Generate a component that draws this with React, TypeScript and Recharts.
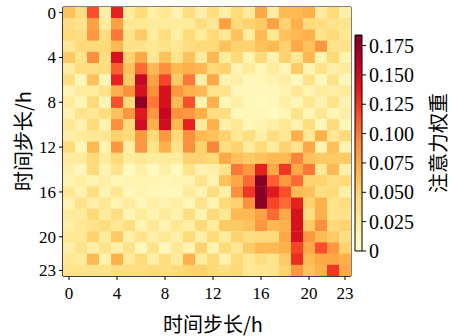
import React from "react";
import {
  Bar,
  BarChart,
  Customized,
  ReferenceArea,
  Scatter,
  ScatterChart,
  XAxis,
  YAxis,
} from "recharts";

// attention weights, one array per query time step (row), 24 key steps each
const step0 = [0.06, 0.04, 0.115, 0.02, 0.135, 0.025, 0.045, 0.02, 0.03, 0.015, 0.04, 0.02, 0.04, 0.02, 0.045, 0.025, 0.075, 0.025, 0.065, 0.065, 0.07, 0.025, 0.045, 0.02];
const step1 = [0.04, 0.035, 0.08, 0.025, 0.08, 0.03, 0.03, 0.025, 0.025, 0.025, 0.025, 0.04, 0.03, 0.08, 0.045, 0.05, 0.055, 0.08, 0.05, 0.07, 0.045, 0.04, 0.035, 0.035];
const step2 = [0.045, 0.04, 0.085, 0.04, 0.1, 0.035, 0.055, 0.025, 0.04, 0.02, 0.045, 0.025, 0.045, 0.03, 0.06, 0.025, 0.065, 0.03, 0.06, 0.065, 0.07, 0.035, 0.045, 0.03];
const step3 = [0.03, 0.045, 0.045, 0.045, 0.065, 0.035, 0.035, 0.03, 0.035, 0.03, 0.04, 0.045, 0.045, 0.06, 0.05, 0.05, 0.06, 0.065, 0.05, 0.075, 0.06, 0.085, 0.035, 0.035];
const step4 = [0.055, 0.035, 0.09, 0.04, 0.145, 0.05, 0.075, 0.03, 0.06, 0.035, 0.06, 0.025, 0.065, 0.025, 0.045, 0.015, 0.045, 0.015, 0.05, 0.03, 0.065, 0.015, 0.045, 0.015];
const step5 = [0.025, 0.04, 0.04, 0.04, 0.11, 0.06, 0.105, 0.065, 0.09, 0.065, 0.07, 0.065, 0.045, 0.05, 0.015, 0.025, 0.012, 0.025, 0.012, 0.055, 0.015, 0.035, 0.02, 0.025];
const step6 = [0.04, 0.012, 0.06, 0.012, 0.135, 0.055, 0.155, 0.08, 0.12, 0.055, 0.1, 0.02, 0.075, 0.015, 0.02, 0.01, 0.012, 0.015, 0.02, 0.008, 0.035, 0.01, 0.035, 0.01];
const step7 = [0.015, 0.025, 0.025, 0.035, 0.07, 0.09, 0.145, 0.09, 0.145, 0.085, 0.07, 0.065, 0.035, 0.035, 0.01, 0.01, 0.01, 0.01, 0.015, 0.03, 0.015, 0.025, 0.02, 0.025];
const step8 = [0.025, 0.012, 0.045, 0.012, 0.115, 0.045, 0.178, 0.1, 0.145, 0.065, 0.115, 0.015, 0.07, 0.012, 0.02, 0.01, 0.008, 0.01, 0.02, 0.012, 0.03, 0.015, 0.035, 0.015];
const step9 = [0.015, 0.035, 0.03, 0.04, 0.06, 0.085, 0.14, 0.085, 0.155, 0.09, 0.085, 0.07, 0.04, 0.04, 0.01, 0.012, 0.01, 0.008, 0.012, 0.035, 0.012, 0.03, 0.012, 0.02];
const step10 = [0.03, 0.015, 0.045, 0.015, 0.09, 0.045, 0.15, 0.07, 0.15, 0.065, 0.135, 0.025, 0.07, 0.02, 0.03, 0.012, 0.015, 0.02, 0.03, 0.015, 0.04, 0.012, 0.045, 0.012];
const step11 = [0.02, 0.025, 0.03, 0.03, 0.05, 0.045, 0.085, 0.045, 0.085, 0.045, 0.09, 0.065, 0.06, 0.05, 0.03, 0.04, 0.02, 0.04, 0.03, 0.07, 0.03, 0.07, 0.03, 0.045];
const step12 = [0.045, 0.012, 0.065, 0.015, 0.085, 0.02, 0.085, 0.035, 0.07, 0.035, 0.09, 0.05, 0.095, 0.04, 0.05, 0.025, 0.045, 0.025, 0.05, 0.035, 0.075, 0.015, 0.06, 0.015];
const step13 = [0.025, 0.025, 0.045, 0.025, 0.045, 0.025, 0.03, 0.025, 0.025, 0.025, 0.05, 0.05, 0.045, 0.075, 0.06, 0.055, 0.06, 0.065, 0.065, 0.095, 0.06, 0.055, 0.055, 0.055];
const step14 = [0.02, 0.01, 0.045, 0.015, 0.035, 0.008, 0.02, 0.008, 0.02, 0.008, 0.035, 0.015, 0.02, 0.035, 0.1, 0.085, 0.135, 0.075, 0.125, 0.075, 0.1, 0.03, 0.065, 0.02];
const step15 = [0.015, 0.02, 0.015, 0.02, 0.012, 0.015, 0.015, 0.015, 0.012, 0.015, 0.015, 0.035, 0.015, 0.06, 0.075, 0.105, 0.18, 0.11, 0.085, 0.105, 0.05, 0.05, 0.04, 0.045];
const step16 = [0.03, 0.015, 0.04, 0.015, 0.03, 0.01, 0.015, 0.012, 0.01, 0.01, 0.025, 0.015, 0.04, 0.02, 0.09, 0.125, 0.18, 0.14, 0.115, 0.065, 0.06, 0.04, 0.045, 0.02];
const step17 = [0.015, 0.035, 0.02, 0.03, 0.015, 0.025, 0.012, 0.02, 0.015, 0.02, 0.012, 0.035, 0.015, 0.045, 0.05, 0.09, 0.18, 0.12, 0.105, 0.135, 0.05, 0.07, 0.035, 0.04];
const step18 = [0.025, 0.025, 0.045, 0.025, 0.04, 0.012, 0.025, 0.015, 0.025, 0.015, 0.04, 0.015, 0.045, 0.03, 0.065, 0.065, 0.08, 0.105, 0.075, 0.145, 0.04, 0.07, 0.035, 0.035];
const step19 = [0.02, 0.03, 0.035, 0.04, 0.03, 0.04, 0.015, 0.03, 0.015, 0.03, 0.02, 0.045, 0.025, 0.055, 0.055, 0.06, 0.085, 0.065, 0.07, 0.145, 0.055, 0.09, 0.045, 0.05];
const step20 = [0.03, 0.03, 0.05, 0.025, 0.055, 0.02, 0.035, 0.02, 0.03, 0.02, 0.045, 0.02, 0.045, 0.025, 0.05, 0.04, 0.045, 0.045, 0.075, 0.145, 0.085, 0.065, 0.055, 0.04];
const step21 = [0.02, 0.035, 0.02, 0.035, 0.02, 0.035, 0.01, 0.035, 0.01, 0.03, 0.015, 0.05, 0.015, 0.045, 0.03, 0.055, 0.065, 0.065, 0.07, 0.12, 0.075, 0.115, 0.085, 0.05];
const step22 = [0.03, 0.025, 0.065, 0.015, 0.07, 0.025, 0.045, 0.02, 0.04, 0.025, 0.07, 0.025, 0.045, 0.015, 0.045, 0.03, 0.04, 0.035, 0.055, 0.13, 0.065, 0.075, 0.075, 0.07];
const step23 = [0.035, 0.035, 0.035, 0.035, 0.04, 0.04, 0.04, 0.045, 0.04, 0.045, 0.05, 0.05, 0.045, 0.04, 0.045, 0.03, 0.03, 0.035, 0.05, 0.085, 0.06, 0.07, 0.125, 0.075];

const weights = [
  step0, step1, step2, step3, step4, step5, step6, step7,
  step8, step9, step10, step11, step12, step13, step14, step15,
  step16, step17, step18, step19, step20, step21, step22, step23,
];

const hourTicks = [0, 4, 8, 12, 16, 20, 23];
const colorbarTicks = [0, 0.025, 0.05, 0.075, 0.1, 0.125, 0.15, 0.175];
const VMAX = 0.184;

const YLORRD = ["#ffffcc", "#ffeda0", "#fed976", "#feb24c", "#fd8d3c", "#fc4e2a", "#e31a1c", "#bd0026", "#800026"];

const W = 452;
const H = 336;
const margin = { top: 7, right: 101, bottom: 30, left: 8 };
const Y_AXIS_W = 55;
const X_AXIS_H = 30;
const plotW = W - margin.left - margin.right - Y_AXIS_W;
const plotH = H - margin.top - margin.bottom - X_AXIS_H;
const cellW = plotW / 24;
const cellH = plotH / 24;

const serif = "'Liberation Serif', 'Times New Roman', 'DejaVu Serif', serif";
const cjk = "'Noto Sans CJK SC', sans-serif";

function hexToRgb(h: string) {
  return [1, 3, 5].map((i) => parseInt(h.slice(i, i + 2), 16));
}

function ylOrRd(v: number) {
  const t = Math.max(0, Math.min(1, v / VMAX)) * (YLORRD.length - 1);
  const i = Math.min(Math.floor(t), YLORRD.length - 2);
  const f = t - i;
  const a = hexToRgb(YLORRD[i]);
  const b = hexToRgb(YLORRD[i + 1]);
  const c = a.map((x, k) => Math.round(x + (b[k] - x) * f));
  return `rgb(${c[0]},${c[1]},${c[2]})`;
}

const cells = weights.flatMap((row, y) => row.map((w, x) => ({ x, y, w })));

const Cell = (props: any) => {
  const { cx, cy, payload } = props;
  return (
    <rect
      x={cx - cellW / 2}
      y={cy - cellH / 2}
      width={cellW + 0.4}
      height={cellH + 0.4}
      fill={ylOrRd(payload.w)}
    />
  );
};

// serif tick text; anchor depends on which axis it sits on
const makeTick = (anchor: "middle" | "end" | "start", size: number, dy: string, fmt?: (v: number) => string) =>
  (props: any) => {
    const { x, y, payload } = props;
    const v = payload.value;
    return (
      <text x={x} y={y} dy={dy} textAnchor={anchor} fill="#000" fontSize={size} style={{ fontFamily: serif }}>
        {fmt ? fmt(v) : v}
      </text>
    );
  };

const xTick = makeTick("middle", 17, "0.9em");
const yTick = makeTick("end", 17, "0.35em");
const cbTick = makeTick("start", 20, "0.35em", (v) => (v === 0 ? "0" : v.toFixed(3)));

export default function App() {
  return (
    <div style={{ position: "absolute", left: 0, top: 0, width: W, height: H, background: "#fff" }}>
      <div style={{ position: "absolute", left: 0, top: 0 }}>
        <ScatterChart width={W} height={H} margin={margin}>
          <XAxis
            type="number"
            dataKey="x"
            domain={[-0.5, 23.5]}
            ticks={hourTicks}
            interval={0}
            allowDataOverflow
            height={X_AXIS_H}
            tickSize={4}
            tickMargin={4}
            tick={xTick}
            stroke="#000"
          />
          <YAxis
            type="number"
            dataKey="y"
            domain={[-0.5, 23.5]}
            ticks={hourTicks}
            interval={0}
            reversed
            allowDataOverflow
            width={Y_AXIS_W}
            tickSize={4}
            tickMargin={3}
            tick={yTick}
            stroke="#000"
          />
          <Scatter data={cells} shape={Cell} isAnimationActive={false} />
          <ReferenceArea x1={-0.5} x2={23.5} y1={-0.5} y2={23.5} fill="none" stroke="#000" strokeWidth={1} />
          <Customized
            component={() => (
              <g>
                <text x={213} y={323} textAnchor="middle" dominantBaseline="central" fontSize={20} style={{ fontFamily: cjk }} fill="#000">
                  时间步长/h
                </text>
                <text
                  x={22}
                  y={141}
                  textAnchor="middle"
                  dominantBaseline="central"
                  fontSize={20}
                  style={{ fontFamily: cjk }}
                  fill="#000"
                  transform="rotate(-90 22 141)"
                >
                  时间步长/h
                </text>
              </g>
            )}
          />
        </ScatterChart>
      </div>
      <div style={{ position: "absolute", left: 0, top: 0 }}>
        <BarChart
          width={W}
          height={H}
          data={[{ name: "cbar", v: VMAX }]}
          margin={{ top: 35, right: 30, bottom: 85, left: 355 }}
          barCategoryGap={0}
        >
          <defs>
            <linearGradient id="ylorrd" x1="0" y1="1" x2="0" y2="0">
              {YLORRD.map((c, i) => (
                <stop key={c} offset={i / (YLORRD.length - 1)} stopColor={c} />
              ))}
            </linearGradient>
          </defs>
          <XAxis dataKey="name" hide />
          <YAxis
            orientation="right"
            domain={[0, VMAX]}
            ticks={colorbarTicks}
            interval={0}
            width={60}
            tickSize={4}
            tickMargin={3}
            axisLine={false}
            stroke="#000"
            tick={cbTick}
          />
          <Bar dataKey="v" fill="url(#ylorrd)" stroke="#000" strokeWidth={1} isAnimationActive={false} />
          <Customized
            component={() => (
              <text
                x={437}
                y={143}
                textAnchor="middle"
                dominantBaseline="central"
                fontSize={20}
                style={{ fontFamily: cjk }}
                fill="#000"
                transform="rotate(-90 437 143)"
              >
                注意力权重
              </text>
            )}
          />
        </BarChart>
      </div>
    </div>
  );
}
